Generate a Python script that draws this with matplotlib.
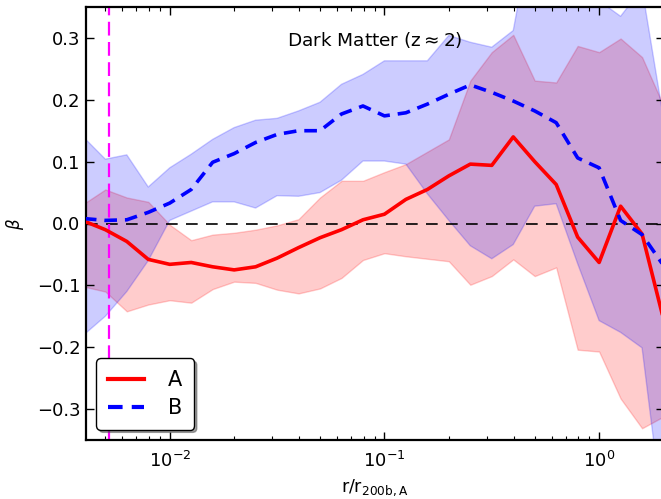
import numpy as np
import matplotlib
matplotlib.use("Agg")
import matplotlib.pyplot as plt

# log10 of r/r200b,A bin centres
log_r = [-2.4, -2.3, -2.2, -2.1, -2.0, -1.9, -1.8, -1.7, -1.6, -1.5,
         -1.4, -1.3, -1.2, -1.1, -1.0, -0.9, -0.8, -0.7, -0.6, -0.5,
         -0.4, -0.3, -0.2, -0.1, 0.0, 0.1, 0.2, 0.3]

beta_A = [0.004, -0.010, -0.029, -0.058, -0.066, -0.063, -0.070, -0.075, -0.070, -0.056,
          -0.039, -0.023, -0.010, 0.006, 0.015, 0.039, 0.055, 0.077, 0.096, 0.094,
          0.140, 0.100, 0.063, -0.022, -0.063, 0.028, -0.017, -0.155]
lo_A = [-0.102, -0.110, -0.142, -0.131, -0.124, -0.128, -0.106, -0.094, -0.096, -0.107,
        -0.113, -0.105, -0.088, -0.059, -0.048, -0.053, -0.057, -0.061, -0.099, -0.085,
        -0.058, -0.085, -0.071, -0.204, -0.207, -0.283, -0.331, -0.312]
hi_A = [0.032, 0.055, 0.042, 0.035, -0.002, -0.027, -0.018, -0.015, -0.010, -0.003,
        0.007, 0.042, 0.069, 0.069, 0.083, 0.096, 0.116, 0.136, 0.231, 0.277,
        0.305, 0.231, 0.228, 0.287, 0.277, 0.299, 0.269, 0.190]

beta_B = [0.008, 0.005, 0.006, 0.018, 0.033, 0.055, 0.099, 0.113, 0.131, 0.144,
          0.150, 0.150, 0.177, 0.190, 0.174, 0.179, 0.193, 0.209, 0.224, 0.212,
          0.198, 0.182, 0.163, 0.106, 0.090, 0.005, -0.018, -0.068]
lo_B = [-0.180, -0.150, -0.110, -0.060, 0.005, 0.020, 0.035, 0.035, 0.025, 0.045,
        0.044, 0.050, 0.070, 0.101, 0.101, 0.096, 0.048, 0.005, -0.036, -0.057,
        -0.034, 0.028, 0.032, -0.065, -0.157, -0.176, -0.201, -0.480]
hi_B = [0.139, 0.104, 0.111, 0.059, 0.090, 0.112, 0.136, 0.155, 0.167, 0.170,
        0.182, 0.196, 0.225, 0.241, 0.263, 0.263, 0.263, 0.304, 0.293, 0.285,
        0.312, 0.500, 0.500, 0.450, 0.360, 0.335, 0.380, 0.170]

r_cut = 0.0052
labels = ["A", "B"]
title_text = "Dark Matter (z$\\approx$2)"

r = 10.0 ** np.array(log_r)

fig = plt.figure(figsize=(6.61, 4.99), dpi=100)
W, H = 661.0, 499.0
ax_left, ax_bottom, ax_top = 86.0, 440.0, 7.0
dec = 214.7
xlo, xhi = 10 ** -2.39, 10 ** 0.3
ax_w = dec * (np.log10(xhi) - np.log10(xlo))
ax = fig.add_axes([ax_left / W, (H - ax_bottom) / H, ax_w / W, (ax_bottom - ax_top) / H])

ax.fill_between(r, lo_A, hi_A, color="red", alpha=0.2, linewidth=1, zorder=1)
ax.fill_between(r, lo_B, hi_B, color="blue", alpha=0.2, linewidth=1, zorder=1.1)

ax.axhline(0.0, color="black", lw=1.2, dashes=(7, 5), zorder=2)
ax.axvline(r_cut, color="magenta", lw=1.6, dashes=(6.2, 2.9), zorder=2)

ax.plot(r, beta_A, color="red", lw=2.6, label=labels[0], zorder=3)
ax.plot(r, beta_B, color="blue", lw=2.6, dashes=(3.5, 2.2), label=labels[1], zorder=3)

ax.set_xscale("log")
ax.set_xlim(xlo, xhi)
ax.set_ylim(-0.35, 0.35)
ax.set_yticks([-0.3, -0.2, -0.1, 0.0, 0.1, 0.2, 0.3])
ax.set_yticklabels(["\u22120.3", "\u22120.2", "\u22120.1", "0.0", "0.1", "0.2", "0.3"])

ax.tick_params(which="both", direction="in", top=True, right=True, labelsize=13)
ax.tick_params(which="major", length=5.5, width=1)
ax.tick_params(which="minor", length=3, width=0.8)
ax.tick_params(axis="x", which="major", pad=8)
ax.tick_params(axis="y", which="major", pad=4)
for s in ax.spines.values():
    s.set_linewidth(1.6)

ax.text(0.5, 0.924, title_text, transform=ax.transAxes, ha="center", va="center", fontsize=13.3)

ax.set_xlabel(r"r/r$_{\rm 200b,A}$", fontsize=12.5)
ax.xaxis.set_label_coords(0.5, -(477 - ax_bottom) / (ax_bottom - ax_top))
ax.set_ylabel(r"$\beta$", fontsize=12)
ax.yaxis.set_label_coords((26 - ax_left) / ax_w, 0.5)

leg = ax.legend(loc="lower left", fontsize=15, shadow=True, fancybox=True,
                handlelength=1.75, handletextpad=1.15, borderpad=0.55,
                labelspacing=0.4, borderaxespad=0.5, framealpha=1)
leg.get_frame().set_edgecolor("black")
leg.get_frame().set_linewidth(1.0)
for line in leg.get_lines():
    line.set_linewidth(3.0)

fig.savefig("out.png", dpi=100)
